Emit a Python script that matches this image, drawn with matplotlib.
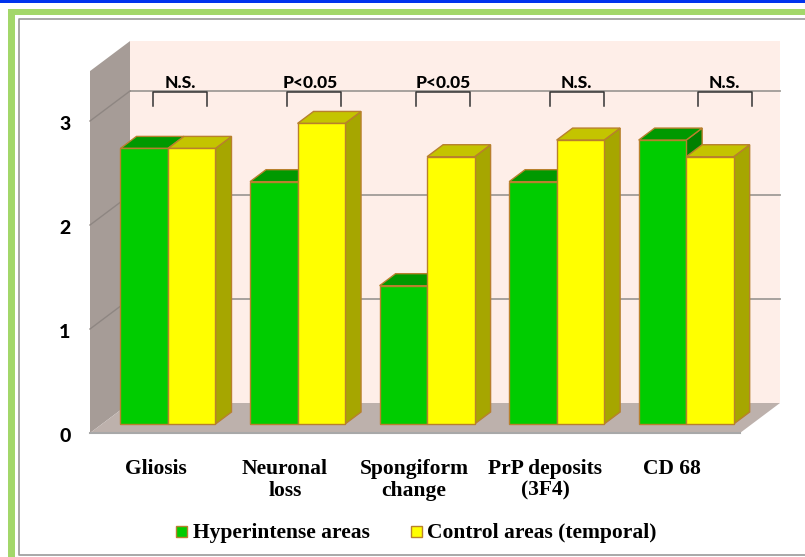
import matplotlib
matplotlib.use('Agg')
import matplotlib.pyplot as plt
from matplotlib.patches import Polygon, Rectangle
from matplotlib.transforms import ScaledTranslation

categories = ['Gliosis', 'Neuronal\nloss', 'Spongiform\nchange', 'PrP deposits\n(3F4)', 'CD 68']
hyperintense = [2.65, 2.33, 1.33, 2.33, 2.73]
control = [2.65, 2.89, 2.57, 2.73, 2.57]
significance = ['N.S.', 'P<0.05', 'P<0.05', 'N.S.', 'N.S.']
y_ticks = [0, 1, 2, 3]
series_names = ['Hyperintense areas', 'Control areas (temporal)']

W, H = 805, 557
PX_X = 130.0  # pixels per category
PX_Y = 104.0  # pixels per unit
Y_MAX = 3.48
WALL_DX, WALL_DY = 40 / PX_X, 30 / PX_Y
BAR_DX, BAR_DY = 16 / PX_X, 12 / PX_Y
BASE_Y = 9 / PX_Y
BAR_W = 47.5 / PX_X
EDGE = '#B8802D'
GREEN = ('#00CC00', '#009900', '#008000')
YELLOW = ('#FFFF00', '#C4C400', '#A6A600')

label_px = [156, 285, 414, 545, 672]
bracket_px = [152.5, 287, 415.5, 550, 697.5]
sig_text_px = [180, 310, 443.5, 576.5, 724]


def draw_bar(ax, x, value, colors):
    top = BASE_Y + value
    bottom = BASE_Y
    w = BAR_W
    ax.add_patch(Polygon([(x + w, bottom), (x + w + BAR_DX, bottom + BAR_DY),
                          (x + w + BAR_DX, top + BAR_DY), (x + w, top)],
                         fc=colors[2], ec=EDGE, lw=1, clip_on=False, zorder=3))
    ax.add_patch(Polygon([(x, top), (x + w, top), (x + w + BAR_DX, top + BAR_DY),
                          (x + BAR_DX, top + BAR_DY)],
                         fc=colors[1], ec=EDGE, lw=1, clip_on=False, zorder=3))
    ax.add_patch(Rectangle((x, bottom), w, value, fc=colors[0], ec=EDGE, lw=1,
                           clip_on=False, zorder=3))


def main():
    fig = plt.figure(figsize=(W / 100, H / 100), dpi=100, facecolor='white')

    # frame and annotations live in a pixel overlay
    ov = fig.add_axes([0, 0, 1, 1], zorder=5)
    ov.set_xlim(0, W)
    ov.set_ylim(H, 0)
    ov.axis('off')
    ov.patch.set_alpha(0)
    ov.add_patch(Rectangle((0, 0), W, 2.5, fc='#0033EE', ec='none'))
    ov.add_patch(Rectangle((8, 8.5), W - 8, 6, fc='#A3D76A', ec='none'))
    ov.add_patch(Rectangle((8, 8.5), 6.5, H - 8.5, fc='#A3D76A', ec='none'))
    ov.plot([W, 18.5, 18.5, W], [18.5, 18.5, 554.5, 554.5], color='#9A9A9A', lw=1.2)

    ax = fig.add_axes([90 / W, (H - 433) / H, 650 / W, Y_MAX * PX_Y / H], zorder=2)
    ax.set_xlim(0, 5)
    ax.set_ylim(0, Y_MAX)
    ax.patch.set_alpha(0)
    for s in ax.spines.values():
        s.set_visible(False)

    # walls and floor
    ax.add_patch(Polygon([(WALL_DX, WALL_DY), (5 + WALL_DX, WALL_DY),
                          (5 + WALL_DX, Y_MAX + WALL_DY), (WALL_DX, Y_MAX + WALL_DY)],
                         fc='#FEEEE8', ec='none', clip_on=False, zorder=1))
    ax.add_patch(Polygon([(0, 0), (WALL_DX, WALL_DY), (WALL_DX, Y_MAX + WALL_DY), (0, Y_MAX)],
                         fc='#A69C97', ec='none', clip_on=False, zorder=1))
    ax.add_patch(Polygon([(0, 0), (5, 0), (5 + WALL_DX, WALL_DY), (WALL_DX, WALL_DY)],
                         fc='#BDB1AC', ec='none', clip_on=False, zorder=1))
    ax.plot([0, 5], [0, 0], color='#A8A8A8', lw=1.5, clip_on=False, zorder=2)
    for t in y_ticks[1:]:
        ax.plot([WALL_DX, 5 + WALL_DX], [t + WALL_DY, t + WALL_DY], color='#A09C98', lw=1.3,
                clip_on=False, zorder=2)
        ax.plot([0, WALL_DX], [t, t + WALL_DY], color='#8E8682', lw=1, clip_on=False, zorder=2)

    # bars
    for i in range(len(categories)):
        x = 0.2346 + i * 0.9965
        draw_bar(ax, x, hyperintense[i], GREEN)
        draw_bar(ax, x + BAR_W, control[i], YELLOW)

    ax.set_yticks(y_ticks)
    ax.set_yticklabels([str(t) for t in y_ticks], fontfamily='Lato', fontweight='black',
                       fontsize=14, color='black')
    ax.tick_params(axis='y', length=0, pad=14)
    shift = ScaledTranslation(0, -1.7 / 100, fig.dpi_scale_trans)
    for lab in ax.get_yticklabels():
        lab.set_transform(lab.get_transform() + shift)
    ax.set_xticks([(p - 90) / PX_X for p in label_px])
    ax.set_xticklabels(categories, fontfamily='Liberation Serif', fontweight='bold',
                       fontsize=15.5, color='black', linespacing=1.13)
    ax.tick_params(axis='x', length=0, pad=18.5)

    # significance brackets
    for px, tx, label in zip(bracket_px, sig_text_px, significance):
        ov.plot([px, px, px + 54, px + 54], [106, 92, 92, 106], color='#333333', lw=1.1)
        ov.text(tx, 82.5, label, ha='center', va='center', fontfamily='Lato',
                fontweight='black', fontsize=12.5, color='black')

    # legend
    for sx, tx, color, name in zip([176, 411], [193, 427], [GREEN[0], YELLOW[0]], series_names):
        ov.add_patch(Rectangle((sx, 526), 11, 11, fc=color, ec=EDGE, lw=1))
        ov.text(tx, 533, name, ha='left', va='center', fontfamily='Liberation Serif',
                fontweight='bold', fontsize=15.5, color='black')

    fig.savefig('out.png', dpi=100)


if __name__ == '__main__':
    main()
